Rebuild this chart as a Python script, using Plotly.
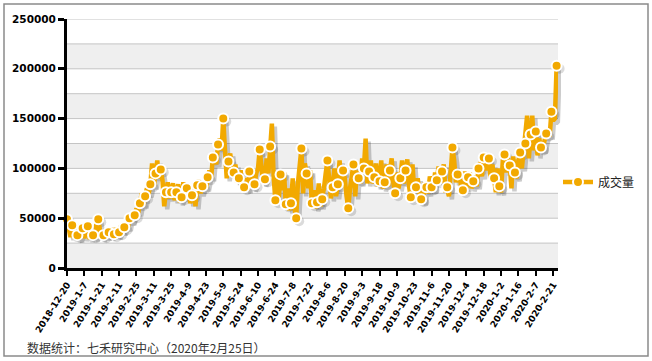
import plotly.graph_objects as go

# ---------------- data ----------------
tick_labels = [
    "2018-12-20", "2019-1-7", "2019-1-21", "2019-2-11", "2019-2-25", "2019-3-11",
    "2019-3-25", "2019-4-9", "2019-4-23", "2019-5-9", "2019-5-24", "2019-6-10",
    "2019-6-24", "2019-7-8", "2019-7-22", "2019-8-6", "2019-8-20", "2019-9-3",
    "2019-9-18", "2019-10-9", "2019-10-23", "2019-11-6", "2019-11-20", "2019-12-4",
    "2019-12-18", "2020-1-2", "2020-1-16", "2020-2-7", "2020-2-21",
]

volume = [
    49000, 36000, 31000, 43000, 30000, 38000, 33000, 29000, 36000, 40000,
    30000, 38000, 42000, 29000, 37000, 33000, 30000, 45000, 49000, 38000,
    30000, 33000, 38000, 31000, 36000, 40000, 33000, 34000, 40000, 32000,
    36000, 42000, 36000, 41000, 45000, 40000, 50000, 46000, 52000, 53000,
    60000, 55000, 65000, 75000, 63000, 72000, 80000, 74000, 84000, 105000,
    82000, 95000, 108000, 90000, 99000, 88000, 62000, 76000, 86000, 70000,
    76000, 85000, 68000, 76000, 84000, 66000, 71000, 86000, 70000, 80000,
    84000, 65000, 73000, 80000, 62000, 83000, 88000, 75000, 82000, 86000,
    80000, 91000, 98000, 90000, 111000, 116000, 104000, 124000, 130000, 118000,
    150000, 118000, 90000, 107000, 115000, 100000, 96000, 104000, 86000, 90000,
    98000, 84000, 81000, 90000, 78000, 97000, 92000, 80000, 84000, 95000,
    100000, 119000, 105000, 85000, 89000, 110000, 95000, 122000, 145000, 92000,
    68000, 90000, 70000, 94000, 78000, 96000, 64000, 80000, 58000, 65000,
    90000, 60000, 50000, 85000, 100000, 120000, 75000, 105000, 95000, 80000,
    98000, 65000, 78000, 60000, 66000, 85000, 62000, 69000, 80000, 95000,
    108000, 90000, 70000, 81000, 100000, 72000, 84000, 108000, 88000, 98000,
    90000, 72000, 60000, 80000, 95000, 104000, 72000, 98000, 90000, 85000,
    110000, 100000, 130000, 85000, 97000, 108000, 85000, 91000, 105000, 82000,
    87000, 108000, 80000, 86000, 104000, 82000, 98000, 110000, 85000, 75000,
    96000, 80000, 90000, 108000, 85000, 98000, 109000, 82000, 71000, 104000,
    78000, 81000, 90000, 75000, 69000, 66000, 86000, 81000, 75000, 92000,
    81000, 78000, 96000, 88000, 102000, 86000, 97000, 104000, 76000, 81000,
    72000, 100000, 121000, 108000, 86000, 94000, 98000, 80000, 78000, 97000,
    80000, 91000, 96000, 80000, 87000, 92000, 82000, 100000, 106000, 92000,
    111000, 98000, 106000, 110000, 90000, 104000, 90000, 76000, 100000, 82000,
    76000, 108000, 114000, 96000, 110000, 103000, 80000, 112000, 96000, 90000,
    108000, 116000, 100000, 118000, 125000, 153000, 110000, 134000, 153000, 118000,
    137000, 113000, 130000, 121000, 118000, 128000, 135000, 140000, 132000, 157000,
    148000, 150000, 203000,
]

y_ticks = [0, 50000, 100000, 150000, 200000, 250000]
series_name = "成交量"
footer = "数据统计：七禾研究中心（2020年2月25日）"

# ---------------- layout geometry ----------------
W, H = 652, 361
ml, mr, mt, mb = 67, 91, 19, 90
pw, ph = W - ml - mr, H - mt - mb
sh = 3  # shadow offset in px
x_idx = list(range(len(volume)))
tick_pos = x_idx[::10]
marker_step = 3
xr = [0, 282.8]
yr = [0, 250000]

ORANGE = "#f2a900"
SHADOW = "rgba(0,0,0,0.2)"

fig = go.Figure()
# main series (first trace -> marker thinning starts at the first point)
fig.add_trace(go.Scatter(
    x=x_idx, y=volume, xaxis="x2", yaxis="y2", name=series_name,
    mode="lines+markers", cliponaxis=False,
    line=dict(color=ORANGE, width=4.5),
    marker=dict(size=10, color=ORANGE, line=dict(color="white", width=2),
                maxdisplayed=95),
))
# drop shadow (offset subplot, drawn underneath)
fig.add_trace(go.Scatter(
    x=x_idx, y=volume, xaxis="x", yaxis="y", mode="lines+markers",
    cliponaxis=False,
    line=dict(color=SHADOW, width=4.5),
    marker=dict(size=[10 if i % marker_step == 0 else 0 for i in x_idx],
                color=SHADOW, line=dict(width=0)),
    showlegend=False, hoverinfo="skip",
))

shapes = []
x_end = (pw - sh) / pw
# alternating bands
for v in range(0, 250000, 50000):
    shapes.append(dict(type="rect", xref="paper", yref="y2", x0=0, x1=x_end,
                       y0=v, y1=v + 25000, fillcolor="#efefef",
                       line=dict(width=0), layer="below"))
# gridlines
for v in range(25000, 250001, 25000):
    shapes.append(dict(type="line", xref="paper", yref="y2", x0=0, x1=x_end,
                       y0=v, y1=v, line=dict(color="#c4c4c4", width=1),
                       layer="below"))
# outer frame
bottom_px = H - mb
shapes.append(dict(type="rect", xref="paper", yref="paper",
                   x0=(4 - ml) / pw, x1=(648 - ml) / pw,
                   y0=(bottom_px - 356) / ph, y1=(bottom_px - 4) / ph,
                   line=dict(color="#8a8a8a", width=1.5), layer="below"))

axis_common = dict(showgrid=False, zeroline=False)
fig.update_layout(
    width=W, height=H,
    margin=dict(l=ml, r=mr, t=mt, b=mb),
    paper_bgcolor="white", plot_bgcolor="rgba(0,0,0,0)",
    shapes=shapes,
    xaxis=dict(domain=[sh / pw, 1], range=xr, visible=False, anchor="y", **axis_common),
    yaxis=dict(domain=[0, 1 - sh / ph], range=yr, visible=False, anchor="x", **axis_common),
    xaxis2=dict(domain=[0, x_end], range=xr, anchor="y2",
                tickmode="array", tickvals=tick_pos, ticktext=tick_labels,
                tickangle=-58, showline=True, linecolor="black", linewidth=3,
                ticks="outside", ticklen=5, tickwidth=2, tickcolor="black",
                tickfont=dict(family="DejaVu Sans", size=9, color="black", weight="bold"),
                **axis_common),
    yaxis2=dict(domain=[sh / ph, 1], range=yr, anchor="x2",
                tickmode="array", tickvals=y_ticks, ticktext=[str(v) for v in y_ticks],
                showline=True, linecolor="black", linewidth=3,
                ticks="outside", ticklen=6, tickwidth=3, tickcolor="black",
                tickfont=dict(family="DejaVu Sans", size=10.5, color="black", weight="bold"),
                **axis_common),
    legend=dict(x=(558 - ml) / pw, y=(bottom_px - 182) / ph, xanchor="left",
                yanchor="middle", bgcolor="rgba(0,0,0,0)",
                font=dict(family="Noto Sans CJK SC", size=12, color="#222")),
    annotations=[dict(text=footer, xref="paper", yref="paper",
                      x=(25 - ml) / pw, y=(bottom_px - 347) / ph,
                      xanchor="left", yanchor="middle", showarrow=False,
                      font=dict(family="Noto Sans CJK SC", size=12, color="#333"))],
    showlegend=True,
)

fig.write_html(
    "out.html",
    config={"displayModeBar": False},
    post_script="document.body.style.margin='0';document.body.style.overflow='hidden';",
)
